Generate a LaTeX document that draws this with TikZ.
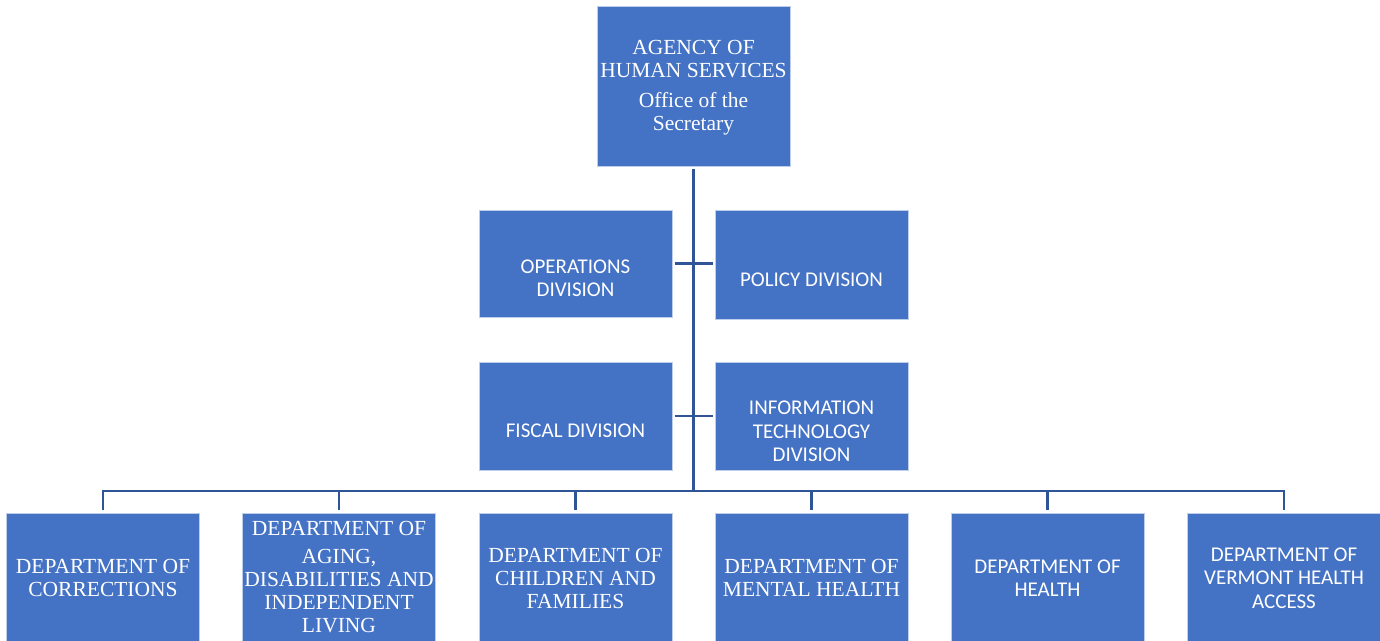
\documentclass[tikz,border=0pt]{standalone}
\usepackage{fontspec}
\setmainfont{Liberation Serif}
\newfontfamily\calib{Carlito}
\definecolor{boxblue}{HTML}{4472C4}
\definecolor{linkblue}{HTML}{2F5597}
\begin{document}
\begin{tikzpicture}[x=1pt,y=-1pt,
  box/.style={fill=boxblue, draw=white!65!boxblue, line width=0.8pt, inner sep=0pt, outer sep=0pt, minimum width=193pt},
  sertxt/.style={text=white, font=\fontsize{21.5}{23}\selectfont, align=center, inner sep=0pt},
  santxt/.style={text=white, font=\calib\fontsize{21}{23.5}\selectfont, align=center, inner sep=0pt},
  link/.style={draw=linkblue, line width=2.8pt}]
\useasboundingbox (0,0) rectangle (1380,640);
% boxes
\node[box, minimum height=160pt] (top) at (693.5,86) {};
\node[box, minimum height=107pt] (ops) at (575.5,263.5) {};
\node[box, minimum height=109pt] (pol) at (811.5,264.5) {};
\node[box, minimum height=108pt] (fis) at (575.5,416) {};
\node[box, minimum height=108pt] (it)  at (811.5,416) {};
\node[box, minimum height=128pt] (d1) at (103,577) {};
\node[box, minimum height=128pt] (d2) at (339,577) {};
\node[box, minimum height=128pt] (d3) at (575.5,577) {};
\node[box, minimum height=128pt] (d4) at (811.5,577) {};
\node[box, minimum height=128pt] (d5) at (1047.5,577) {};
\node[box, minimum height=128pt] (d6) at (1284,577) {};
% texts
\node[sertxt] (topT) at ([yshift=-2pt]top.center) {AGENCY OF\\HUMAN SERVICES\\[7pt]Office of the\\Secretary};
\node[santxt] (opsT) at ([yshift=-15pt]ops.center) {OPERATIONS\\DIVISION};
\node[santxt] (polT) at ([yshift=-15.5pt]pol.center) {POLICY DIVISION};
\node[santxt] (fisT) at ([yshift=-15pt]fis.center) {FISCAL DIVISION};
\node[santxt] (itT)  at ([yshift=-15.5pt]it.center) {INFORMATION\\TECHNOLOGY\\DIVISION};
\node[sertxt] (d1T) at ([yshift=-1pt]d1.center) {DEPARTMENT OF\\CORRECTIONS};
\node[sertxt] (d2T) at (d2.center) {DEPARTMENT OF\\[5pt]AGING,\\DISABILITIES AND\\INDEPENDENT\\LIVING};
\node[sertxt] (d3T) at ([yshift=-1pt]d3.center) {DEPARTMENT OF\\CHILDREN AND\\FAMILIES};
\node[sertxt] (d4T) at ([yshift=-1pt]d4.center) {DEPARTMENT OF\\MENTAL HEALTH};
\node[santxt] (d5T) at ([yshift=-1pt]d5.center) {DEPARTMENT OF\\HEALTH};
\node[santxt] (d6T) at ([yshift=-1pt]d6.center) {DEPARTMENT OF\\VERMONT HEALTH\\ACCESS};
% connectors
\coordinate (bar) at (693.5,491);
\draw[link, shorten <=3pt] (top.south) -- (top.south |- bar);
\draw[link, shorten <=2.5pt, shorten >=2pt] (ops.east) -- (ops.east -| pol.west);
\draw[link, shorten <=2.5pt, shorten >=2pt] (fis.east) -- (fis.east -| it.west);
\draw[link, line cap=rect] (d1.north |- bar) -- (d6.north |- bar);
\foreach \d in {d1,d2,d3,d4,d5,d6}{
  \draw[link, shorten >=3pt] (\d.north |- bar) -- (\d.north);
}
\end{tikzpicture}
\end{document}
